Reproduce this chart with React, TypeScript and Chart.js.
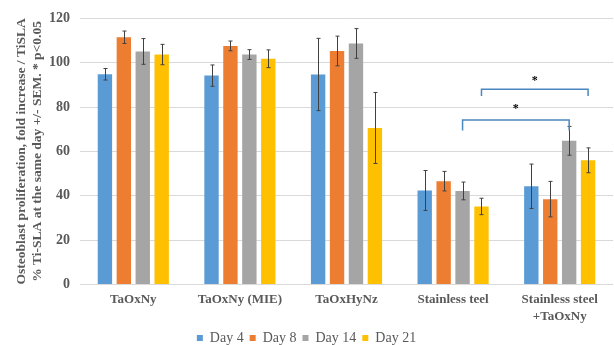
import React, { useEffect, useRef } from "react";
import { Chart, registerables } from "chart.js";
Chart.register(...registerables);

const categories: (string | string[])[] = [
  "TaOxNy",
  "TaOxNy (MIE)",
  "TaOxHyNz",
  "Stainless teel",
  ["Stainless steel", "+TaOxNy"],
];
const seriesNames = ["Day 4", "Day 8", "Day 14", "Day 21"];
const day4 = [94.8, 94.2, 94.7, 42.4, 44.3];
const day8 = [111.5, 107.6, 105.3, 46.6, 38.5];
const day14 = [105.1, 103.7, 108.7, 42.2, 64.8];
const day21 = [103.7, 101.8, 70.6, 35.2, 56];
const err4 = [2.6, 4.8, 16.3, 9, 10];
const err8 = [2.8, 2.2, 6.7, 4.4, 8];
const err14 = [5.8, 2.2, 6.7, 4, 6.5];
const err21 = [4.6, 4, 16, 3.7, 5.6];
const colors = ["#5B9BD5", "#ED7D31", "#A5A5A5", "#FFC000"];
const yTicks = [0, 20, 40, 60, 80, 100, 120];
const yTitle = [
  "Osteoblast proliferation, fold increase / TiSLA",
  "% Ti-SLA at the same day +/- SEM. * p<0.05",
];
// significance brackets: [category, series] endpoints, bracket level, leg end, star level
const brackets = [
  { fromCat: 3, toCat: 4, series: 3, level: 88, legEnd: 85, star: 92 },
  { fromCat: 3, toCat: 4, series: 2, level: 74.2, legEnd: 69.4, star: 79 },
];

const values = [day4, day8, day14, day21];
const errors = [err4, err8, err14, err21];

const FONT = "'Liberation Serif', 'Times New Roman', serif";
Chart.defaults.font.family = FONT;

const errorBarPlugin = {
  id: "errorBars",
  afterDatasetsDraw(chart: any) {
    const ctx = chart.ctx;
    const yScale = chart.scales.y;
    ctx.save();
    ctx.strokeStyle = "#404040";
    ctx.lineWidth = 1;
    values.forEach((vals, i) => {
      const meta = chart.getDatasetMeta(i);
      meta.data.forEach((el: any, j: number) => {
        const v = vals[j];
        const e = errors[i][j];
        const x = Math.round(el.x) + 0.5;
        const yt = yScale.getPixelForValue(v + e);
        const yb = yScale.getPixelForValue(v - e);
        ctx.beginPath();
        ctx.moveTo(x, yt);
        ctx.lineTo(x, yb);
        ctx.moveTo(x - 2, yt);
        ctx.lineTo(x + 2, yt);
        ctx.moveTo(x - 2, yb);
        ctx.lineTo(x + 2, yb);
        ctx.stroke();
      });
    });
    ctx.restore();
  },
};

const bracketPlugin = {
  id: "brackets",
  afterDatasetsDraw(chart: any) {
    const ctx = chart.ctx;
    const yScale = chart.scales.y;
    ctx.save();
    brackets.forEach((b) => {
      const meta = chart.getDatasetMeta(b.series);
      const x1 = meta.data[b.fromCat].x;
      const x2 = meta.data[b.toCat].x;
      const yl = yScale.getPixelForValue(b.level);
      const ye = yScale.getPixelForValue(b.legEnd);
      ctx.strokeStyle = "#4A86C0";
      ctx.lineWidth = 1.5;
      ctx.beginPath();
      ctx.moveTo(x1, ye);
      ctx.lineTo(x1, yl);
      ctx.lineTo(x2, yl);
      ctx.lineTo(x2, ye);
      ctx.stroke();
      ctx.fillStyle = "#000";
      ctx.font = `bold 12px ${FONT}`;
      ctx.textAlign = "center";
      ctx.textBaseline = "middle";
      ctx.fillText("*", (x1 + x2) / 2, yScale.getPixelForValue(b.star));
    });
    ctx.restore();
  },
};

export default function App() {
  const ref = useRef<HTMLCanvasElement>(null);
  useEffect(() => {
    document.body.style.margin = "0";
    const chart = new Chart(ref.current!, {
      type: "bar",
      data: {
        labels: categories as any,
        datasets: seriesNames.map((name, i) => ({
          label: name,
          data: values[i],
          backgroundColor: colors[i],
          borderWidth: 0,
          categoryPercentage: 0.71,
          barPercentage: 0.76,
        })),
      },
      options: {
        responsive: false,
        animation: false,
        layout: { padding: { top: 16, right: 1, left: 0, bottom: -10 } },
        plugins: {
          tooltip: { enabled: false },
          legend: {
            position: "bottom",
            labels: {
              boxWidth: 6,
              boxHeight: 6,
              padding: 6,
              color: "#595959",
              font: { family: FONT, size: 14 },
            },
          },
        },
        scales: {
          x: {
            grid: { display: false, drawTicks: false },
            border: { display: false },
            ticks: {
              padding: 7,
              color: "#595959",
              font: { family: FONT, size: 13, weight: "bold", lineHeight: 1.3 },
              maxRotation: 0,
              autoSkip: false,
            },
            afterFit: (s: any) => {
              s.height = 40.5;
            },
          },
          y: {
            min: 0,
            max: 120,
            afterBuildTicks: (s: any) => {
              s.ticks = yTicks.map((v) => ({ value: v }));
            },
            grid: { color: "#D9D9D9", drawTicks: false },
            border: { display: false },
            ticks: {
              padding: 10,
              color: "#595959",
              font: { family: FONT, size: 14, weight: "bold" },
            },
            title: {
              display: true,
              text: yTitle,
              color: "#595959",
              font: { family: FONT, size: 13.5, weight: "bold", lineHeight: 1.2 },
              padding: { top: 13, bottom: 0 },
            },
            afterFit: (s: any) => {
              s.width = 80;
            },
          },
        },
      },
      plugins: [errorBarPlugin, bracketPlugin],
    });
    return () => chart.destroy();
  }, []);
  return (
    <div style={{ position: "absolute", left: 0, top: 0, width: 614, height: 345, background: "#fff" }}>
      <canvas ref={ref} width={614} height={345} />
    </div>
  );
}
